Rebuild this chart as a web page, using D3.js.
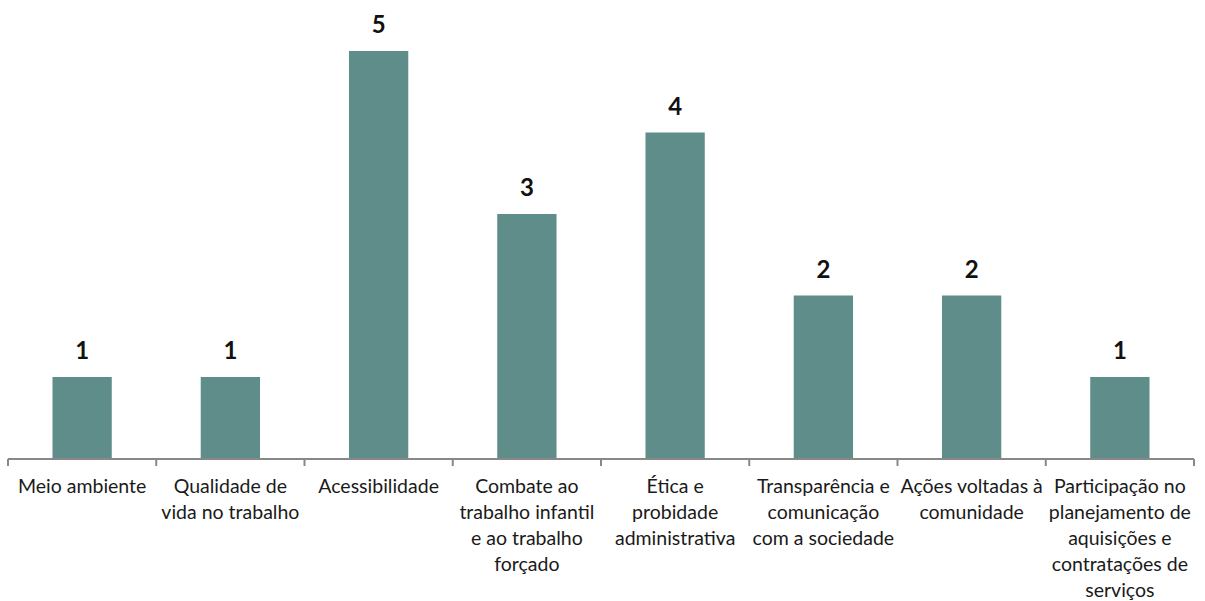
<!DOCTYPE html>
<html>
<head>
<meta charset="utf-8">
<script src="https://cdn.jsdelivr.net/npm/d3@7"></script>
<style>
  body { margin: 0; background: #fff; }
  text { font-family: Lato, "Open Sans", sans-serif; }
</style>
</head>
<body>
<svg id="chart" width="1205" height="601"></svg>
<script>
// categories, line-broken the way they are in the picture
const categories = [
  "Meio ambiente",
  "Qualidade de\nvida no trabalho",
  "Acessibilidade",
  "Combate ao\ntrabalho infantil\ne ao trabalho\nforçado",
  "Ética e\nprobidade\nadministrativa",
  "Transparência e\ncomunicação\ncom a sociedade",
  "Ações voltadas à\ncomunidade",
  "Participação no\nplanejamento de\naquisições e\ncontratações de\nserviços"
];
const values = [1, 1, 5, 3, 4, 2, 2, 1];

const margin = {top: 51, left: 8, right: 11, bottom: 142};
const width = 1205, height = 601;
const barColor = "#5f8e8a";

const svg = d3.select("#chart");

const x = d3.scaleBand()
  .domain(categories)
  .range([margin.left, width - margin.right])
  .paddingInner(0.6)
  .paddingOuter(0.3);

const y = d3.scaleLinear()
  .domain([0, 5])
  .range([height - margin.bottom - 0.5, margin.top]);

const data = categories.map((c, i) => ({cat: c, val: values[i]}));

// bars
svg.append("g")
  .selectAll("rect")
  .data(data)
  .join("rect")
  .attr("x", d => x(d.cat))
  .attr("y", d => y(d.val))
  .attr("width", x.bandwidth())
  .attr("height", d => y(0) - y(d.val))
  .attr("fill", barColor);

// value labels
svg.append("g")
  .selectAll("text")
  .data(data)
  .join("text")
  .attr("x", d => x(d.cat) + x.bandwidth() / 2)
  .attr("y", d => y(d.val) - 18)
  .attr("text-anchor", "middle")
  .attr("font-size", "24px")
  .attr("font-weight", "bold")
  .attr("fill", "#111")
  .text(d => d.val);

// x axis: line with ticks at band boundaries
const step = x.step();
const x0 = margin.left, x1 = width - margin.right;
const axisY = y(0) + 0.5;
const axis = svg.append("g").attr("stroke", "#888").attr("stroke-width", 2);
axis.append("line")
  .attr("x1", x0).attr("x2", x1)
  .attr("y1", axisY).attr("y2", axisY);
axis.selectAll("line.tick")
  .data(d3.range(categories.length + 1))
  .join("line")
  .attr("class", "tick")
  .attr("x1", i => x0 + i * step).attr("x2", i => x0 + i * step)
  .attr("y1", axisY).attr("y2", axisY + 7);

// category labels
const labels = svg.append("g")
  .selectAll("text")
  .data(data)
  .join("text")
  .attr("text-anchor", "middle")
  .attr("font-size", "19.5px")
  .attr("fill", "#1a1a1a")
  .attr("transform", d => `translate(${x(d.cat) + x.bandwidth() / 2},${axisY + 34})`);

labels.selectAll("tspan")
  .data(d => d.cat.split("\n"))
  .join("tspan")
  .attr("x", 0)
  .attr("y", (d, i) => i * 26)
  .text(d => d);
</script>
</body>
</html>
